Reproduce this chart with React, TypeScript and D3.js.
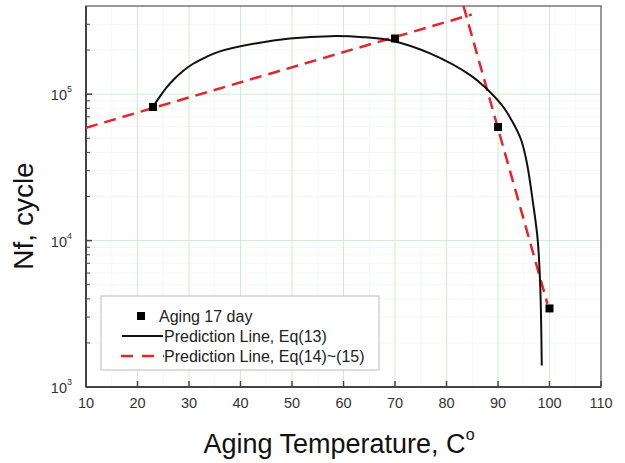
import React, { useEffect, useRef } from "react";
import * as d3 from "d3";

// measured samples, aging 17 day
const agingTemp = [23, 70, 90, 100];
const agingCycles = [81700, 240000, 59700, 3440];

// Eq(13) prediction curve
const eq13Temp = [23.0, 24.4, 25.7, 27.0, 28.9, 30.8, 33.4, 35.7, 43.2, 49.6, 57.5, 63.8, 69.6, 76.8, 84.6, 88.4, 91.0, 93.0, 94.5, 95.6, 96.8, 97.7, 98.2, 98.5];
const eq13Cycles = [82000, 96900, 111600, 125500, 144500, 161300, 179900, 194500, 223000, 240000, 249000, 245000, 231000, 190000, 135000, 104000, 82000, 63000, 48600, 34000, 18100, 10200, 4890, 1400];

// Eq(14)~(15) straight lines
const eq14Temp = [10, 84.9];
const eq14Cycles = [59000, 350000];
const eq15Temp = [83.3, 99.6];
const eq15Cycles = [400000, 3700];

const xTicks = [10, 20, 30, 40, 50, 60, 70, 80, 90, 100, 110];
const yDecades = [3, 4, 5];

const W = 625, H = 463;
const L = 86, R = 601, T = 6, B = 387;

export default function App() {
  const ref = useRef<SVGSVGElement>(null);

  useEffect(() => {
    const svg = d3.select(ref.current);
    svg.selectAll("*").remove();

    const x = d3.scaleLinear().domain([10, 110]).range([L, R]);
    const y = d3.scaleLog().domain([1000, 400000]).range([B, T]);
    const font = "'Liberation Sans', Arial, sans-serif";

    svg.append("rect").attr("width", W).attr("height", H).attr("fill", "#fff");

    // minor grid
    const minorX = d3.range(15, 110, 10);
    const minorY: number[] = [];
    for (const e of [3, 4, 5]) for (let k = 2; k <= 9; k++) {
      const v = k * Math.pow(10, e);
      if (v < 400000) minorY.push(v);
    }
    const grid = svg.append("g");
    grid.selectAll(".mx").data(minorX).enter().append("line")
      .attr("x1", (d) => x(d)).attr("x2", (d) => x(d)).attr("y1", T).attr("y2", B)
      .attr("stroke", "#f2f8f2").attr("stroke-width", 1);
    grid.selectAll(".my").data(minorY).enter().append("line")
      .attr("x1", L).attr("x2", R).attr("y1", (d) => y(d)).attr("y2", (d) => y(d))
      .attr("stroke", "#f3f8f3").attr("stroke-width", 1);
    // major grid
    grid.selectAll(".gx").data(xTicks.slice(1, -1)).enter().append("line")
      .attr("x1", (d) => x(d)).attr("x2", (d) => x(d)).attr("y1", T).attr("y2", B)
      .attr("stroke", "#cdeecd").attr("stroke-width", 1);
    grid.selectAll(".gy").data([4, 5]).enter().append("line")
      .attr("x1", L).attr("x2", R).attr("y1", (d) => y(Math.pow(10, d))).attr("y2", (d) => y(Math.pow(10, d)))
      .attr("stroke", "#cdeecd").attr("stroke-width", 1);

    // frame
    svg.append("rect").attr("x", L).attr("y", T).attr("width", R - L).attr("height", B - T)
      .attr("fill", "none").attr("stroke", "#777").attr("stroke-width", 1.5);
    svg.append("line").attr("x1", L).attr("x2", L).attr("y1", T).attr("y2", B)
      .attr("stroke", "#444").attr("stroke-width", 2);
    svg.append("line").attr("x1", L).attr("x2", R).attr("y1", B).attr("y2", B)
      .attr("stroke", "#444").attr("stroke-width", 2);

    // x ticks (inward)
    svg.selectAll(".xt").data(xTicks).enter().append("line")
      .attr("x1", (d) => x(d)).attr("x2", (d) => x(d)).attr("y1", B).attr("y2", B - 6)
      .attr("stroke", "#444").attr("stroke-width", 1.5);
    svg.selectAll(".xl").data(xTicks).enter().append("text")
      .attr("x", (d) => x(d)).attr("y", 408).attr("text-anchor", "middle")
      .attr("font-family", font).attr("font-size", 14.5).attr("fill", "#333")
      .text((d) => String(d));

    // y ticks
    svg.selectAll(".yt").data(yDecades).enter().append("line")
      .attr("x1", L).attr("x2", L + 6).attr("y1", (d) => y(Math.pow(10, d))).attr("y2", (d) => y(Math.pow(10, d)))
      .attr("stroke", "#444").attr("stroke-width", 1.5);
    svg.selectAll(".ym").data(minorY).enter().append("line")
      .attr("x1", L).attr("x2", L + 4).attr("y1", (d) => y(d)).attr("y2", (d) => y(d))
      .attr("stroke", "#444").attr("stroke-width", 1);
    const yl = svg.selectAll(".yl").data(yDecades).enter().append("text")
      .attr("x", 72).attr("y", (d) => y(Math.pow(10, d)) + 6).attr("text-anchor", "end")
      .attr("font-family", font).attr("font-size", 14.5).attr("fill", "#333");
    yl.append("tspan").text("10");
    yl.append("tspan").attr("font-size", 9).attr("dy", -8).text((d) => String(d));

    // axis titles
    const xt = svg.append("text").attr("x", 339).attr("y", 453).attr("text-anchor", "middle")
      .attr("font-family", font).attr("font-size", 27).attr("fill", "#111");
    xt.append("tspan").text("Aging Temperature, C");
    xt.append("tspan").attr("font-size", 16).attr("dy", -13).text("o");
    svg.append("text").attr("transform", `translate(33,${216}) rotate(-90)`).attr("text-anchor", "middle")
      .attr("font-family", font).attr("font-size", 28).attr("fill", "#111").text("Nf, cycle");

    const plot = svg.append("g");
    const clipId = "plotclip";
    svg.append("clipPath").attr("id", clipId).append("rect")
      .attr("x", L).attr("y", T).attr("width", R - L).attr("height", B - T);
    plot.attr("clip-path", `url(#${clipId})`);

    const line = d3.line<[number, number]>().x((d) => x(d[0])).y((d) => y(d[1]));
    const red = "#e4262c";
    const straight = [
      d3.zip(eq14Temp, eq14Cycles) as [number, number][],
      d3.zip(eq15Temp, eq15Cycles) as [number, number][],
    ];
    plot.selectAll(".red").data(straight).enter().append("path")
      .attr("d", (d) => line(d)).attr("fill", "none").attr("stroke", red)
      .attr("stroke-width", 2.5).attr("stroke-dasharray", "12,7");

    const curve = d3.line<[number, number]>().x((d) => x(d[0])).y((d) => y(d[1])).curve(d3.curveCatmullRom.alpha(0.5));
    plot.append("path").attr("d", curve(d3.zip(eq13Temp, eq13Cycles) as [number, number][]))
      .attr("fill", "none").attr("stroke", "#111").attr("stroke-width", 2);

    plot.selectAll(".pt").data(d3.zip(agingTemp, agingCycles)).enter().append("rect")
      .attr("x", (d) => x(d[0]) - 4).attr("y", (d) => y(d[1]) - 4)
      .attr("width", 8).attr("height", 8).attr("fill", "#000");

    // legend
    const lg = svg.append("g");
    lg.append("rect").attr("x", 101).attr("y", 296).attr("width", 278).attr("height", 74)
      .attr("fill", "#fff").attr("stroke", "#bbb").attr("stroke-width", 1);
    lg.append("rect").attr("x", 137).attr("y", 312).attr("width", 8).attr("height", 8).attr("fill", "#000");
    lg.append("line").attr("x1", 122).attr("x2", 163).attr("y1", 336).attr("y2", 336)
      .attr("stroke", "#111").attr("stroke-width", 2);
    lg.append("line").attr("x1", 121).attr("x2", 164).attr("y1", 356).attr("y2", 356)
      .attr("stroke", red).attr("stroke-width", 2.5).attr("stroke-dasharray", "12,9");
    const legendText = ["Aging 17 day", "Prediction Line, Eq(13)", "Prediction Line, Eq(14)~(15)"];
    lg.selectAll(".lt").data(legendText).enter().append("text")
      .attr("x", (d, i) => (i === 0 ? 159 : 164)).attr("y", (d, i) => 322 + i * 20)
      .attr("font-family", font).attr("font-size", 16).attr("fill", "#222").text((d) => d);
  }, []);

  return (
    <svg ref={ref} width={W} height={H} style={{ position: "absolute", left: 0, top: 0 }} />
  );
}
